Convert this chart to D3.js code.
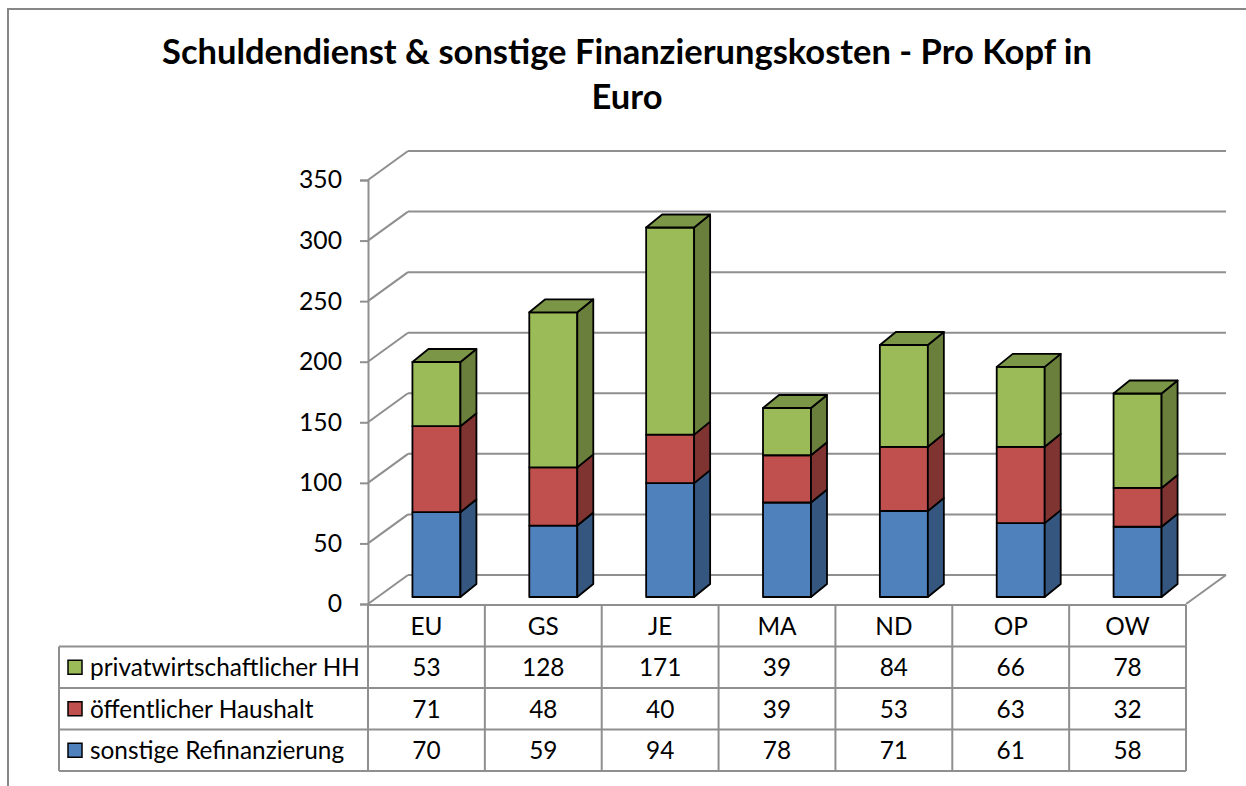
<!DOCTYPE html>
<html>
<head>
<meta charset="utf-8">
<script src="https://cdn.jsdelivr.net/npm/d3@7"></script>
<style>
  body { margin: 0; background: #fff; }
  text { font-family: Lato, "Open Sans", sans-serif; fill: #000; }
</style>
</head>
<body>
<div id="chart"></div>
<script>
// data
const categories = ["EU", "GS", "JE", "MA", "ND", "OP", "OW"];
const privat = [53, 128, 171, 39, 84, 66, 78];
const oeffentlich = [71, 48, 40, 39, 53, 63, 32];
const sonstige = [70, 59, 94, 78, 71, 61, 58];
const seriesKeys = ["sonstige", "oeffentlich", "privat"];
const seriesNames = {
    privat: "privatwirtschaftlicher HH",
    oeffentlich: "öffentlicher Haushalt",
    sonstige: "sonstige Refinanzierung"
};
const yTicks = [0, 50, 100, 150, 200, 250, 300, 350];
const titleLines = ["Schuldendienst & sonstige Finanzierungskosten - Pro Kopf in", "Euro"];

const colors = {
    sonstige: {front: "#4F81BD", side: "#34567F", top: "#3F6797"},
    oeffentlich: {front: "#C0504D", side: "#803432", top: "#9A403E"},
    privat: {front: "#9BBB59", side: "#697F3B", top: "#7B9646"}
};

const width = 1246;
const height = 786;

const svg = d3.select("#chart").append("svg")
    .attr("width", width)
    .attr("height", height);

// outer frame (cut off on the right and bottom)
svg.append("rect")
    .attr("x", 8).attr("y", 9)
    .attr("width", 1300).attr("height", 900)
    .attr("fill", "none")
    .attr("stroke", "#878787")
    .attr("stroke-width", 2);

// helper: font size so that a string gets a given width
function fitSize(str, weight, target) {
    const t = svg.append("text")
        .style("font-size", "100px")
        .style("font-weight", weight)
        .text(str);
    const w = t.node().getComputedTextLength();
    t.remove();
    return 100 * target / w;
}

// scales
const x = d3.scaleBand().domain(categories).range([368, 1186]);
const y = d3.scaleLinear().domain([0, 350]).range([604, 180]);

// depth of the walls and of the bars
const wall = {dx: 40, dy: -29};
const barShift = {dx: 10, dy: -7};
const barDepth = {dx: 16, dy: -13};
const barWidth = 48;

const grid = svg.append("g")
    .attr("stroke", "#8f8f8f")
    .attr("stroke-width", 2)
    .attr("fill", "none");

// back wall lines
grid.selectAll("line.back")
    .data(yTicks)
    .join("line")
        .attr("class", "back")
        .attr("x1", 368 + wall.dx)
        .attr("x2", 1186 + wall.dx)
        .attr("y1", d => y(d) + wall.dy)
        .attr("y2", d => y(d) + wall.dy);

// side wall diagonals
grid.selectAll("line.side")
    .data(yTicks)
    .join("line")
        .attr("class", "side")
        .attr("x1", 368)
        .attr("x2", 368 + wall.dx)
        .attr("y1", d => y(d))
        .attr("y2", d => y(d) + wall.dy);

// right floor edge
grid.append("line")
    .attr("x1", 1186).attr("y1", y(0))
    .attr("x2", 1186 + wall.dx).attr("y2", y(0) + wall.dy);

// y axis
const axisG = svg.append("g").attr("transform", "translate(368,0)");
axisG.call(d3.axisLeft(y).tickValues(yTicks).tickSize(8).tickPadding(18).tickFormat(d3.format("d")));
axisG.select(".domain").attr("stroke", "#8f8f8f").attr("stroke-width", 2);
axisG.selectAll(".tick line").attr("stroke", "#8f8f8f").attr("stroke-width", 2);
const axisSize = fitSize("350", 400, 43);
axisG.selectAll(".tick text")
    .attr("fill", "#000")
    .style("font-family", "Lato, sans-serif")
    .style("font-size", axisSize + "px");

// stacked 3D bars
const rows = categories.map((c, i) => ({
    cat: c, sonstige: sonstige[i], oeffentlich: oeffentlich[i], privat: privat[i]
}));
const stacked = d3.stack().keys(seriesKeys)(rows);

const bars = svg.append("g")
    .attr("stroke", "#000")
    .attr("stroke-width", 1.8)
    .attr("stroke-linejoin", "round");

categories.forEach((c, ci) => {
    const xl = x(c) + x.bandwidth() / 2 - barWidth / 2 + barShift.dx;
    const xr = xl + barWidth;
    stacked.forEach((layer, li) => {
        const d = layer[ci];
        const yt = y(d[1]) + barShift.dy;
        const yb = y(d[0]) + barShift.dy;
        const col = colors[layer.key];
        bars.append("rect")
            .attr("x", xl).attr("y", yt)
            .attr("width", barWidth).attr("height", yb - yt)
            .attr("fill", col.front);
        bars.append("polygon")
            .attr("points", [[xr, yt], [xr + barDepth.dx, yt + barDepth.dy],
                [xr + barDepth.dx, yb + barDepth.dy], [xr, yb]].join(" "))
            .attr("fill", col.side);
        if (li === stacked.length - 1) {
            bars.append("polygon")
                .attr("points", [[xl, yt], [xl + barDepth.dx, yt + barDepth.dy],
                    [xr + barDepth.dx, yt + barDepth.dy], [xr, yt]].join(" "))
                .attr("fill", col.top);
        }
    });
});

// data table
const tableTop = 605;
const rowH = 41.5;
const legendLeft = 59;
const tableRows = ["privat", "oeffentlich", "sonstige"];
const values = {privat: privat, oeffentlich: oeffentlich, sonstige: sonstige};
const tableSize = fitSize(seriesNames.privat, 400, 270);

const table = svg.append("g");
const tlines = table.append("g").attr("stroke", "#8f8f8f").attr("stroke-width", 2);

// horizontal lines
tlines.append("line")
    .attr("x1", 368).attr("x2", 1186)
    .attr("y1", tableTop).attr("y2", tableTop);
d3.range(1, 5).forEach(r => {
    tlines.append("line")
        .attr("x1", legendLeft).attr("x2", 1186)
        .attr("y1", tableTop + r * rowH).attr("y2", tableTop + r * rowH);
});
// vertical lines
categories.forEach(c => {
    tlines.append("line")
        .attr("x1", x(c)).attr("x2", x(c))
        .attr("y1", tableTop).attr("y2", tableTop + 4 * rowH);
});
tlines.append("line")
    .attr("x1", 1186).attr("x2", 1186)
    .attr("y1", tableTop).attr("y2", tableTop + 4 * rowH);
tlines.append("line")
    .attr("x1", legendLeft).attr("x2", legendLeft)
    .attr("y1", tableTop + rowH).attr("y2", tableTop + 4 * rowH);

// category header
table.selectAll("text.cat")
    .data(categories)
    .join("text")
        .attr("class", "cat")
        .attr("x", d => x(d) + x.bandwidth() / 2)
        .attr("y", tableTop + rowH / 2)
        .attr("dy", "0.36em")
        .attr("text-anchor", "middle")
        .style("font-size", tableSize + "px")
        .text(d => d);

// value rows + legend
tableRows.forEach((key, r) => {
    const cy = tableTop + (r + 1.5) * rowH;
    table.append("rect")
        .attr("x", 68).attr("y", cy - 7)
        .attr("width", 14).attr("height", 14)
        .attr("fill", colors[key].front)
        .attr("stroke", "#000")
        .attr("stroke-width", 1.5);
    table.append("text")
        .attr("x", 90).attr("y", cy)
        .attr("dy", "0.36em")
        .style("font-size", tableSize + "px")
        .text(seriesNames[key]);
    table.selectAll("text.v" + key)
        .data(values[key])
        .join("text")
            .attr("class", "v" + key)
            .attr("x", (d, i) => x(categories[i]) + x.bandwidth() / 2)
            .attr("y", cy)
            .attr("dy", "0.36em")
            .attr("text-anchor", "middle")
            .style("font-size", tableSize + "px")
            .text(d => d);
});

// title
const titleSize = fitSize(titleLines[0], 700, 930);
svg.append("g").selectAll("text")
    .data(titleLines)
    .join("text")
        .attr("x", 627)
        .attr("y", (d, i) => 64 + i * 45)
        .attr("text-anchor", "middle")
        .style("font-size", titleSize + "px")
        .style("font-weight", 700)
        .text(d => d);
</script>
</body>
</html>
